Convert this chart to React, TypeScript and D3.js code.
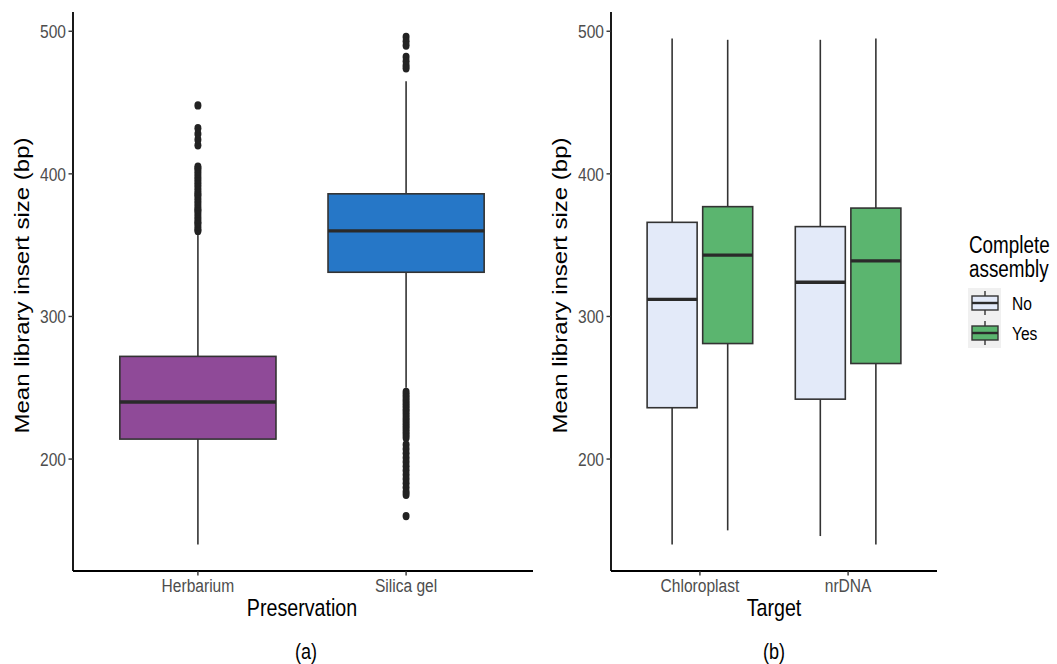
import React from "react";
import * as d3 from "d3";

// ---------- DATA ----------
const preservation = ["Herbarium", "Silica gel"];
const presColors = ["#8F4A98", "#2677C7"];
const presQ1 = [214, 331];
const presMedian = [240, 360];
const presQ3 = [272, 386];
const presLow = [140, 250];
const presHigh = [358, 465];
const herbariumOutliers = [
  360, 361, 363, 365, 366, 368, 370, 372, 374, 375, 377, 379, 381, 383, 385,
  386, 388, 390, 392, 394, 396, 398, 400, 402, 404, 405, 420, 424, 428, 432, 448,
];
const silicaOutliers = [
  496, 493, 490, 482, 479, 476, 474,
  247, 245, 243, 241, 239, 237, 235, 233, 231, 229, 227, 225, 223, 221, 219, 217,
  215, 210, 207, 204, 201, 198, 195, 192, 189, 186, 183, 180, 177, 175, 160,
];

const targets = ["Chloroplast", "nrDNA"];
const assembly = ["No", "Yes"];
const assemblyColors = ["#E3EAF9", "#5BB56F"];
// index: [target][assembly]
const tgtQ1 = [[236, 281], [242, 267]];
const tgtMedian = [[312, 343], [324, 339]];
const tgtQ3 = [[366, 377], [363, 376]];
const tgtLow = [[140, 150], [146, 140]];
const tgtHigh = [[495, 494], [494, 495]];

const yTicks = [200, 300, 400, 500];

// ---------- LAYOUT ----------
const W = 1057;
const H = 664;
const top = 12;
const bottom = 571;
const SX = 0.82; // horizontal squeeze of the reference
const FONT = "'Liberation Sans', Arial, Helvetica, sans-serif";
const TICK_FS = 19;
const TITLE_FS = 24;
const LINE = "#333333";

const y = d3.scaleLinear().domain([121.5, 513.5]).range([bottom, top]);

type TProps = {
  x: number;
  y: number;
  text: string;
  size: number;
  anchor?: "start" | "middle" | "end";
  fill?: string;
  rotate?: boolean;
};
function T({ x, y, text, size, anchor = "middle", fill = "#000", rotate = false }: TProps) {
  return (
    <text
      transform={`translate(${x},${y}) scale(${SX},1)${rotate ? " rotate(-90)" : ""}`}
      fontSize={size}
      fontFamily={FONT}
      textAnchor={anchor}
      fill={fill}
    >
      {text}
    </text>
  );
}

function Box({
  cx, w, q1, med, q3, lo, hi, fill,
}: { cx: number; w: number; q1: number; med: number; q3: number; lo: number; hi: number; fill: string }) {
  return (
    <g>
      <line x1={cx} x2={cx} y1={y(q3)} y2={y(hi)} stroke={LINE} strokeWidth={1.6} />
      <line x1={cx} x2={cx} y1={y(q1)} y2={y(lo)} stroke={LINE} strokeWidth={1.6} />
      <rect x={cx - w / 2} y={y(q3)} width={w} height={y(q1) - y(q3)} fill={fill} stroke={LINE} strokeWidth={1.6} />
      <line x1={cx - w / 2} x2={cx + w / 2} y1={y(med)} y2={y(med)} stroke="#2a2a2a" strokeWidth={3.4} />
    </g>
  );
}

function YAxis({ x0, title, titleX }: { x0: number; title: string; titleX: number }) {
  return (
    <g>
      <line x1={x0} x2={x0} y1={top} y2={bottom} stroke="#000" strokeWidth={1.8} />
      {yTicks.map((t) => (
        <g key={t}>
          <line x1={x0 - 4.5} x2={x0} y1={y(t)} y2={y(t)} stroke={LINE} strokeWidth={1.4} />
          <T x={x0 - 7} y={y(t) + 7} text={String(t)} size={TICK_FS} anchor="end" fill="#4D4D4D" />
        </g>
      ))}
      <T x={titleX} y={(top + bottom) / 2 - 6} text={title} size={TITLE_FS} rotate />
    </g>
  );
}

export default function App() {
  // Panel (a)
  const ax0 = 73, ax1 = 531;
  const xa = d3.scalePoint<string>().domain(preservation).range([ax0, ax1]).padding(0.6);
  const stepA = xa.step();
  // Panel (b)
  const bx0 = 611, bx1 = 937;
  const xb = d3.scalePoint<string>().domain(targets).range([bx0, bx1]).padding(0.6);
  const stepB = xb.step();
  const dodge = 0.75 * stepB / 2;

  const outliers = [herbariumOutliers, silicaOutliers];

  return (
    <svg width={W} height={H} style={{ position: "absolute", left: 0, top: 0, background: "#fff" }}>
      {/* Panel a */}
      {preservation.map((p, i) => {
        const cx = xa(p)!;
        return (
          <g key={p}>
            <Box cx={cx} w={0.75 * stepA} q1={presQ1[i]} med={presMedian[i]} q3={presQ3[i]}
              lo={presLow[i]} hi={presHigh[i]} fill={presColors[i]} />
            {outliers[i].map((v, k) => (
              <ellipse key={k} cx={cx} cy={y(v)} rx={3.5} ry={4.2} fill="#222" />
            ))}
          </g>
        );
      })}
      <YAxis x0={ax0} title="Mean library insert size (bp)" titleX={29} />
      <line x1={ax0} x2={ax1 + 2} y1={bottom} y2={bottom} stroke="#000" strokeWidth={1.8} />
      {preservation.map((p) => (
        <g key={p}>
          <line x1={xa(p)} x2={xa(p)} y1={bottom} y2={bottom + 4.5} stroke={LINE} strokeWidth={1.4} />
          <T x={xa(p)!} y={bottom + 21} text={p} size={TICK_FS} fill="#4D4D4D" />
        </g>
      ))}
      <T x={(ax0 + ax1) / 2} y={bottom + 45} text="Preservation" size={TITLE_FS} />
      <T x={306} y={659} text="(a)" size={22} />

      {/* Panel b */}
      {targets.map((t, i) =>
        assembly.map((a, j) => {
          const cx = xb(t)! + (j === 0 ? -dodge / 2 : dodge / 2);
          return (
            <Box key={t + a} cx={cx} w={0.9 * dodge} q1={tgtQ1[i][j]} med={tgtMedian[i][j]} q3={tgtQ3[i][j]}
              lo={tgtLow[i][j]} hi={tgtHigh[i][j]} fill={assemblyColors[j]} />
          );
        })
      )}
      <YAxis x0={bx0} title="Mean library insert size (bp)" titleX={567} />
      <line x1={bx0} x2={bx1} y1={bottom} y2={bottom} stroke="#000" strokeWidth={1.8} />
      {targets.map((t) => (
        <g key={t}>
          <line x1={xb(t)} x2={xb(t)} y1={bottom} y2={bottom + 4.5} stroke={LINE} strokeWidth={1.4} />
          <T x={xb(t)!} y={bottom + 21} text={t} size={TICK_FS} fill="#4D4D4D" />
        </g>
      ))}
      <T x={(bx0 + bx1) / 2} y={bottom + 45} text="Target" size={TITLE_FS} />
      <T x={774} y={659} text="(b)" size={22} />

      {/* Legend */}
      <T x={969} y={253} text="Complete" size={23} anchor="start" />
      <T x={969} y={277} text="assembly" size={23} anchor="start" />
      {assembly.map((a, j) => {
        const y0 = 288 + 30 * j;
        const cx = 985;
        return (
          <g key={a}>
            <rect x={968} y={y0} width={33} height={30} fill="#F0F0F0" />
            <line x1={cx} x2={cx} y1={y0 + 3} y2={y0 + 27} stroke={LINE} strokeWidth={1.4} />
            <rect x={972} y={y0 + 8} width={26} height={14} fill={assemblyColors[j]} stroke={LINE} strokeWidth={1.4} />
            <line x1={972} x2={998} y1={y0 + 15} y2={y0 + 15} stroke="#2a2a2a" strokeWidth={2.4} />
            <T x={1012} y={y0 + 22} text={a} size={TICK_FS} anchor="start" />
          </g>
        );
      })}
    </svg>
  );
}
